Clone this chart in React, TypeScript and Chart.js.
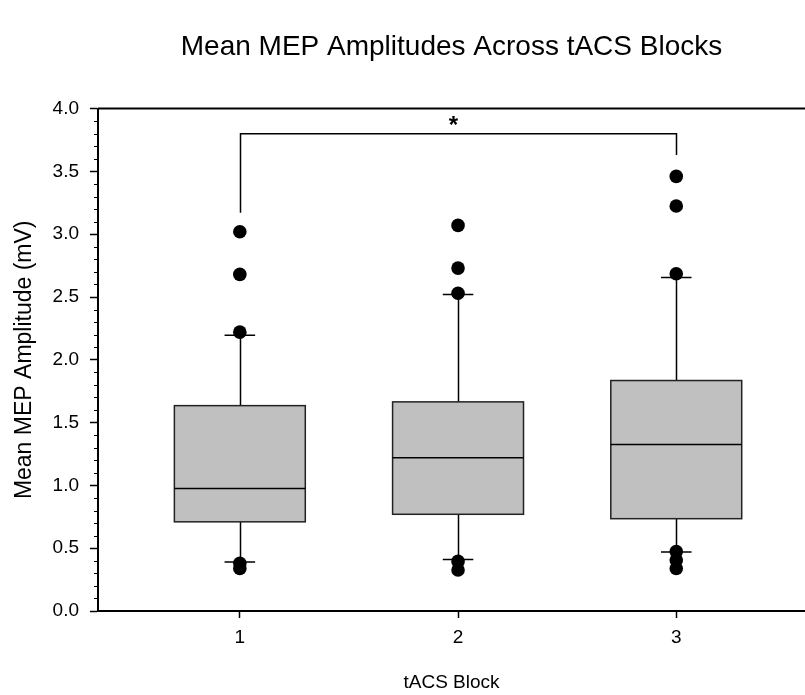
import React, { useEffect, useRef } from "react";
import { Chart, registerables } from "chart.js";

Chart.register(...registerables);

// ---------- data ----------
const BLOCKS = [1, 2, 3];
const BLOCK_LABELS = ["1", "2", "3"];
const Q1 = [0.71, 0.77, 0.735];
const MEDIAN = [0.975, 1.22, 1.325];
const Q3 = [1.635, 1.665, 1.835];
const WHISKER_LOW = [0.39, 0.41, 0.47];
const WHISKER_HIGH = [2.195, 2.52, 2.655];
const OUTLIERS_BLOCK_1 = [3.02, 2.68, 2.22, 0.38, 0.338];
const OUTLIERS_BLOCK_2 = [3.07, 2.73, 2.53, 0.395, 0.326];
const OUTLIERS_BLOCK_3 = [3.46, 3.225, 2.685, 0.474, 0.406, 0.338];
const Y_TICKS = [0, 0.5, 1, 1.5, 2, 2.5, 3, 3.5, 4];
const SIG_FROM = 1;
const SIG_TO = 3;
const SIG_Y = 3.8;
const SIG_LEFT_END = 3.17;
const SIG_RIGHT_END = 3.63;
const SIG_LABEL = "*";

const TITLE = "Mean MEP Amplitudes Across tACS Blocks";
const X_TITLE = "tACS Block";
const Y_TITLE = "Mean MEP Amplitude (mV)";

// ---------- styles ----------
const FONT = 'Arial, "Liberation Sans", sans-serif';
const BOX_HALF = 0.3;
const CAP_HALF = 0.07;
const BOX_FILL = "#c0c0c0";
const LINE = "#000";

const OUTLIERS = [OUTLIERS_BLOCK_1, OUTLIERS_BLOCK_2, OUTLIERS_BLOCK_3];

const boxPlugin = {
  id: "boxplotDraw",
  beforeDatasetsDraw(chart: any) {
    const { ctx, scales, chartArea } = chart;
    const x = scales.x;
    const y = scales.y;
    ctx.save();
    ctx.strokeStyle = LINE;
    ctx.lineWidth = 1.5;
    BLOCKS.forEach((b, i) => {
      const cx = Math.round(x.getPixelForValue(b)) + 0.5;
      const l = x.getPixelForValue(b - BOX_HALF);
      const r = x.getPixelForValue(b + BOX_HALF);
      const cl = x.getPixelForValue(b - CAP_HALF);
      const cr = x.getPixelForValue(b + CAP_HALF);
      const yq1 = y.getPixelForValue(Q1[i]);
      const yq3 = y.getPixelForValue(Q3[i]);
      const ym = y.getPixelForValue(MEDIAN[i]);
      const yhi = y.getPixelForValue(WHISKER_HIGH[i]);
      const ylo = y.getPixelForValue(WHISKER_LOW[i]);
      ctx.beginPath();
      ctx.moveTo(cx, yhi);
      ctx.lineTo(cx, yq3);
      ctx.moveTo(cx, yq1);
      ctx.lineTo(cx, ylo);
      ctx.moveTo(cl, yhi);
      ctx.lineTo(cr, yhi);
      ctx.moveTo(cl, ylo);
      ctx.lineTo(cr, ylo);
      ctx.stroke();
      ctx.fillStyle = BOX_FILL;
      ctx.fillRect(l, yq3, r - l, yq1 - yq3);
      ctx.strokeStyle = "#222";
      ctx.strokeRect(l, yq3, r - l, yq1 - yq3);
      ctx.strokeStyle = LINE;
      ctx.beginPath();
      ctx.moveTo(l, ym);
      ctx.lineTo(r, ym);
      ctx.stroke();
    });
    // minor ticks on y axis
    ctx.lineWidth = 1.2;
    ctx.beginPath();
    for (let k = 0; k <= 40; k++) {
      if (k % 5 === 0) continue;
      const py = Math.round(y.getPixelForValue(k / 10)) + 0.5;
      ctx.moveTo(chartArea.left - 4, py);
      ctx.lineTo(chartArea.left, py);
    }
    ctx.stroke();
    // top frame line
    ctx.lineWidth = 2;
    ctx.beginPath();
    ctx.moveTo(chartArea.left, chartArea.top);
    ctx.lineTo(chartArea.right, chartArea.top);
    ctx.stroke();
    ctx.restore();
  },
  afterDatasetsDraw(chart: any) {
    const { ctx, scales } = chart;
    const x = scales.x;
    const y = scales.y;
    const x1 = Math.round(x.getPixelForValue(SIG_FROM)) + 0.5;
    const x2 = Math.round(x.getPixelForValue(SIG_TO)) + 0.5;
    const yb = y.getPixelForValue(SIG_Y);
    ctx.save();
    ctx.strokeStyle = LINE;
    ctx.lineWidth = 1.5;
    ctx.beginPath();
    ctx.moveTo(x1, y.getPixelForValue(SIG_LEFT_END));
    ctx.lineTo(x1, yb);
    ctx.lineTo(x2, yb);
    ctx.lineTo(x2, y.getPixelForValue(SIG_RIGHT_END));
    ctx.stroke();
    ctx.fillStyle = LINE;
    ctx.font = `bold 24px ${FONT}`;
    ctx.textAlign = "center";
    ctx.textBaseline = "middle";
    ctx.fillText(SIG_LABEL, (x1 + x2) / 2 - 5, yb - 7);
    ctx.restore();
  },
};

export default function App() {
  const ref = useRef<HTMLCanvasElement>(null);
  useEffect(() => {
    document.body.style.margin = "0";
    const canvas = ref.current;
    if (!canvas) return;
    const points: { x: number; y: number }[] = [];
    BLOCKS.forEach((b, i) => OUTLIERS[i].forEach((v) => points.push({ x: b, y: v })));
    const chart = new Chart(canvas, {
      type: "scatter",
      data: {
        datasets: [
          {
            data: points,
            pointRadius: 6.8,
            pointHoverRadius: 6.8,
            backgroundColor: "#000",
            borderColor: "#000",
            borderWidth: 0,
          },
        ],
      },
      options: {
        animation: false,
        responsive: false,
        maintainAspectRatio: false,
        events: [],
        layout: { padding: 0, autoPadding: false },
        plugins: {
          legend: { display: false },
          tooltip: { enabled: false },
          title: {
            display: true,
            text: TITLE,
            fullSize: false,
            color: "#000",
            font: { family: FONT, size: 28, weight: "normal" },
            padding: { top: 30, bottom: 45 },
          },
        },
        scales: {
          x: {
            type: "linear",
            min: 0.35,
            max: 3.59,
            afterBuildTicks: (s: any) => {
              s.ticks = BLOCKS.map((v) => ({ value: v }));
            },
            afterFit: (s: any) => {
              s.height = 84;
              s.paddingLeft = 0;
              s.paddingRight = 0;
            },
            ticks: {
              callback: (v: any) => BLOCK_LABELS[BLOCKS.indexOf(Number(v))] ?? "",
              color: "#000",
              font: { family: FONT, size: 19 },
              padding: 8,
              autoSkip: false,
              maxRotation: 0,
            },
            grid: {
              display: true,
              drawOnChartArea: false,
              drawTicks: true,
              tickLength: 7,
              tickColor: "#000",
              tickWidth: 1.5,
            },
            border: { display: true, color: "#000", width: 2 },
            title: {
              display: true,
              text: X_TITLE,
              color: "#000",
              font: { family: FONT, size: 19 },
              padding: { top: 0, bottom: 1 },
            },
          },
          y: {
            type: "linear",
            min: 0,
            max: 4,
            afterBuildTicks: (s: any) => {
              s.ticks = Y_TICKS.map((v) => ({ value: v }));
            },
            afterFit: (s: any) => {
              s.width = 98;
            },
            ticks: {
              callback: (v: any) => Number(v).toFixed(1),
              color: "#000",
              font: { family: FONT, size: 19 },
              padding: 11,
            },
            grid: {
              display: true,
              drawOnChartArea: false,
              drawTicks: true,
              tickLength: 8,
              tickColor: "#000",
              tickWidth: 1.5,
            },
            border: { display: true, color: "#000", width: 2 },
            title: {
              display: true,
              text: Y_TITLE,
              color: "#000",
              font: { family: FONT, size: 23 },
              padding: { top: 11, bottom: 0 },
            },
          },
        },
      } as any,
      plugins: [boxPlugin],
    });
    return () => chart.destroy();
  }, []);
  return (
    <div style={{ width: 805, height: 695 }}>
      <canvas ref={ref} width={805} height={695} style={{ display: "block", width: 805, height: 695 }} />
    </div>
  );
}
